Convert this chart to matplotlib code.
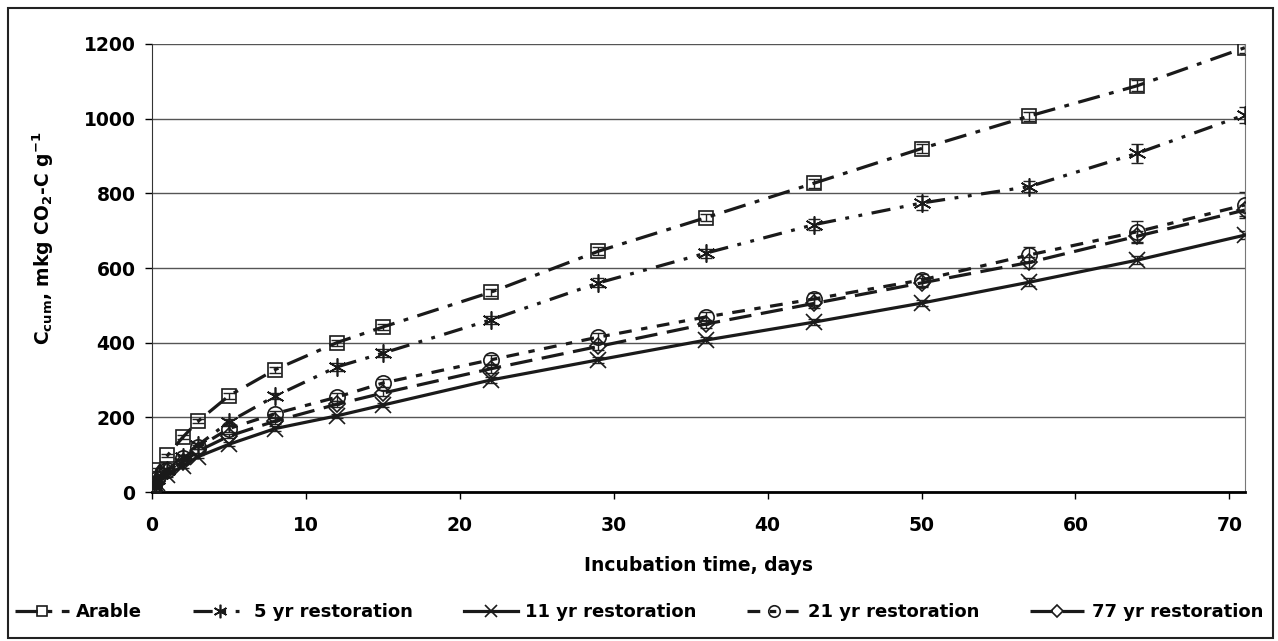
import matplotlib.pyplot as plt
from matplotlib.patches import Rectangle

plt.rcParams["font.family"] = ["DejaVu Sans"]
plt.rcParams["font.weight"] = "bold"
plt.rcParams["mathtext.default"] = "regular"

# incubation time, days
days = [0.1, 0.3, 1, 2, 3, 5, 8, 12, 15, 22, 29, 36, 43, 50, 57, 64, 71]

arable = [20, 60, 98, 147, 190, 258, 328, 400, 442, 535, 645, 735, 827, 920, 1007, 1088, 1190]
arable_err = [4, 5, 5, 6, 6, 8, 8, 8, 8, 10, 10, 10, 12, 12, 12, 15, 15]

yr5 = [15, 35, 60, 94, 126, 188, 257, 335, 372, 461, 560, 640, 716, 774, 818, 907, 1010]
yr5_err = [4, 5, 5, 6, 6, 8, 8, 10, 10, 10, 12, 12, 15, 18, 15, 25, 22]

yr11 = [10, 25, 45, 70, 95, 128, 170, 204, 233, 300, 354, 407, 455, 506, 562, 621, 688]
yr11_err = [3, 4, 4, 5, 5, 6, 6, 6, 6, 8, 8, 8, 8, 8, 10, 10, 10]

yr21 = [15, 35, 60, 90, 120, 170, 210, 254, 292, 354, 415, 469, 517, 568, 635, 697, 769]
yr21_err = [4, 5, 5, 6, 6, 8, 8, 10, 10, 12, 12, 12, 15, 15, 20, 30, 35]

yr77 = [12, 30, 55, 80, 110, 150, 190, 235, 265, 330, 390, 450, 505, 560, 615, 685, 755]
yr77_err = [4, 4, 5, 5, 6, 6, 8, 8, 8, 10, 10, 10, 12, 12, 15, 15, 15]

series = [
    ("Arable", arable, arable_err, "s", (0, (7, 3, 1.5, 3)), 10),
    ("5 yr restoration", yr5, yr5_err, (6, 2, 0), (0, (6, 3, 1.2, 3, 1.2, 3)), 13),
    ("11 yr restoration", yr11, yr11_err, "x", "-", 12),
    ("21 yr restoration", yr21, yr21_err, "o", (0, (4, 3, 2, 3)), 11),
    ("77 yr restoration", yr77, yr77_err, "D", (0, (7, 3)), 8),
]

fig = plt.figure(figsize=(12.78, 6.41), dpi=100)
ax = fig.add_axes([0.119, 0.2324, 0.855, 0.699])

for name, vals, err, mk, ls, ms in series:
    ax.errorbar(days, vals, yerr=err, fmt="none", ecolor="#222222",
                elinewidth=1, capsize=4.5, capthick=1, zorder=2)
    ax.plot(days, vals, color="#1a1a1a", linestyle=ls, linewidth=2.3,
            marker=mk, markersize=ms, markerfacecolor="none",
            markeredgecolor="#1a1a1a", markeredgewidth=1.2, label=name,
            zorder=3)

ax.set_xlim(0, 71)
ax.set_ylim(0, 1200)
ax.set_xticks(range(0, 71, 10))
ax.set_yticks(range(0, 1201, 200))
ax.yaxis.grid(True, color="#555555", linewidth=1)
ax.set_axisbelow(True)
ax.spines["top"].set_visible(False)
ax.spines["right"].set_color("#777777")
ax.spines["left"].set_color("#333333")
ax.spines["bottom"].set_linewidth(2)
ax.tick_params(axis="both", labelsize=13.5, length=5, width=1, direction="out")
ax.tick_params(axis="y", pad=7)
ax.tick_params(axis="x", pad=12)
ax.set_xlabel("Incubation time, days", fontsize=13.5, fontweight="bold")
ax.xaxis.set_label_coords(0.5, -0.163)
ax.xaxis.label.set_va("center")
ax.set_ylabel(r"C$_{cum}$, mkg CO$_2$-C g$^{-1}$", fontsize=13.5,
              fontweight="bold")
ax.yaxis.set_label_coords(-0.1, 0.567)
ax.yaxis.label.set_va("center")

fig.legend(loc="center", bbox_to_anchor=(0.5, 0.045), ncol=5, frameon=False,
           fontsize=13, handlelength=3.0, columnspacing=2.8, handletextpad=0.4,
           markerscale=0.75)

fig.patches.append(Rectangle((0.006, 0.005), 0.99, 0.983, transform=fig.transFigure,
                             fill=False, edgecolor="#222222", linewidth=1.5))

fig.savefig("out.png", dpi=100)
